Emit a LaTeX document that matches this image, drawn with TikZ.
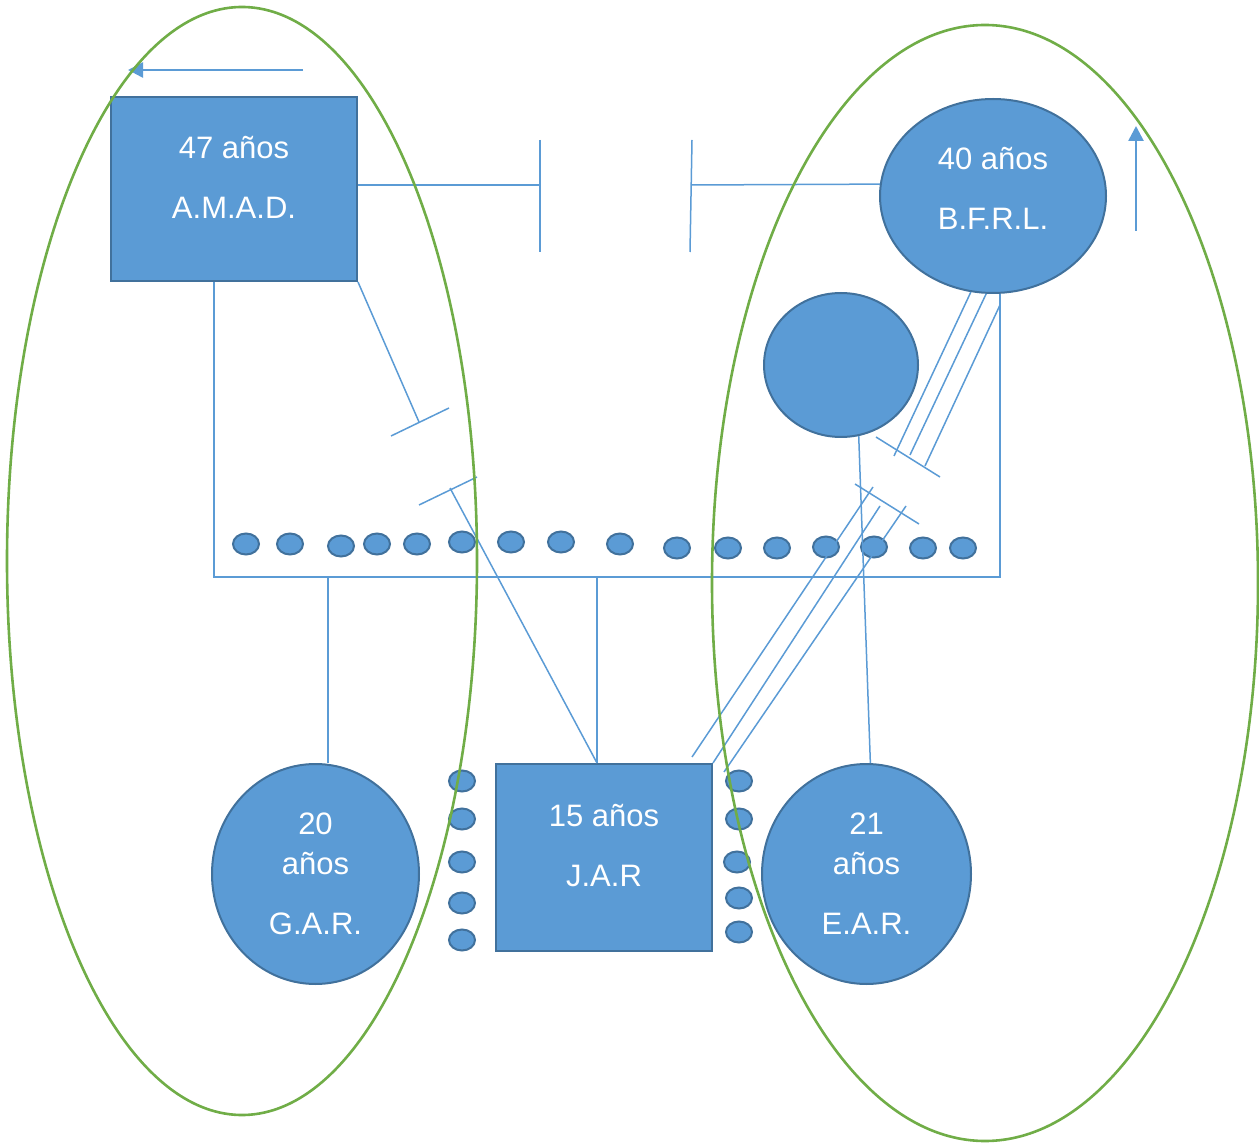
\documentclass[tikz,border=0pt]{standalone}
\usepackage{fontspec}
\setmainfont{Liberation Sans}
\usetikzlibrary{shapes.geometric,arrows.meta}
\definecolor{azul}{HTML}{5B9BD5}
\definecolor{azulborde}{HTML}{41719C}
\definecolor{verde}{HTML}{70AD47}
\tikzset{
  persona/.style={draw=azulborde,fill=azul,line width=1pt},
  caja/.style={persona,rectangle},
  ovalo/.style={persona,ellipse,inner sep=0pt},
  punto/.style={persona,ellipse,minimum width=13pt,minimum height=10.5pt,inner sep=0pt},
  etiqueta/.style={text=white,align=center,font=\fontsize{15.5}{30}\selectfont},
  lazo/.style={azul,line width=0.75pt},
  grupo/.style={verde,line width=1.3pt},
  flecha/.style={azul,line width=1.3pt,-{Triangle[length=7.5pt,width=7.5pt]}}
}
\begin{document}
\begin{tikzpicture}[x=0.5pt,y=-0.5pt]
\useasboundingbox (0,0) rectangle (1259,1144);
% familia
\node[caja,minimum width=123pt,minimum height=92pt] (amad) at (234,189) {};
\node[etiqueta] (amadtxt) at ([yshift=6pt]amad.center) {47 años\\A.M.A.D.};
\node[ovalo,minimum width=113pt,minimum height=97pt] (bfrl) at (993,196) {};
\node[etiqueta] (bfrltxt) at ([yshift=4pt]bfrl.center) {40 años\\B.F.R.L.};
\node[ovalo,minimum width=77pt,minimum height=72pt] (circ) at (841,365) {};
\node[caja,minimum width=108pt,minimum height=93.5pt] (jar) at (604,857.5) {};
\node[etiqueta] (jartxt) at ([yshift=6pt]jar.center) {15 años\\J.A.R};
\node[ovalo,etiqueta,minimum width=103.5pt,minimum height=110pt] (gar) at (315.5,874) {20\\[-10pt]años\\G.A.R.};
\node[ovalo,etiqueta,minimum width=104.5pt,minimum height=110pt] (ear) at (866.5,874) {21\\[-10pt]años\\E.A.R.};
% puntos
\foreach \x/\y [count=\i] in {246/544,290/544,341/546,377/544,417/544,462/542,511/542,561/542,
    620/544,677/548,728/548,777/548,826/547,874/547,923/548,963/548}
  \node[punto] (p\i) at (\x,\y) {};
\foreach \y [count=\i] in {781,819,862,903,940}
  \node[punto] (izq\i) at (462,\y) {};
\foreach \x/\y [count=\i] in {739/781,739/819,737/862,739/898,739/932}
  \node[punto] (der\i) at (\x,\y) {};
% relaciones
\coordinate (tA) at (540,185);
\coordinate (tB) at (692,185);
\coordinate (fL) at (214,577);
\coordinate (fR) at (1000,577);
\coordinate (gA) at (328,577);
\coordinate (jB) at (597,577);
\coordinate (tC) at (419,422);
\coordinate (tD) at (450,488);
\draw[lazo] (amad.east |- tA) -- (tA);
\draw[lazo] (540,140) -- (540,252);
\draw[lazo] (bfrl.174) -- (tB);
\draw[lazo] (692,140) -- (690,252);
\draw[lazo] (amad.south -| fL) -- (fL) -- (fR) -- (fR |- bfrl.south);
\draw[lazo] (gA) -- (gA |- gar.north);
\draw[lazo] (jB) -- (jB |- jar.north);
\draw[lazo] (amad.south east) -- (tC);
\draw[lazo] (391,436) -- (449,408);
\draw[lazo] (jar.north -| jB) -- (tD);
\draw[lazo] (419,505) -- (477,477);
\draw[lazo] (bfrl.257) -- (894,456);
\draw[lazo] (bfrl.266) -- (910,455);
\draw[lazo] (fR |- 0,305) -- (925,466);
\draw[lazo] (876,437) -- (940,477);
\draw[lazo] (692,757) -- (873,487);
\draw[lazo] (jar.north east) -- (880,506);
\draw[lazo] (724,772) -- (906,506);
\draw[lazo] (855,484) -- (919,524);
\draw[lazo] (circ.284) -- (ear.88);
% flechas
\coordinate (flA) at (303,70);
\coordinate (flB) at (1136,231);
\draw[flecha] (flA) -- (128,70);
\draw[flecha] (flB) -- (1136,126);
% grupos
\draw[grupo] (242,561) ellipse [x radius=117.5pt, y radius=277pt];
\draw[grupo] (985,583) ellipse [x radius=136.5pt, y radius=279pt];
\end{tikzpicture}
\end{document}
